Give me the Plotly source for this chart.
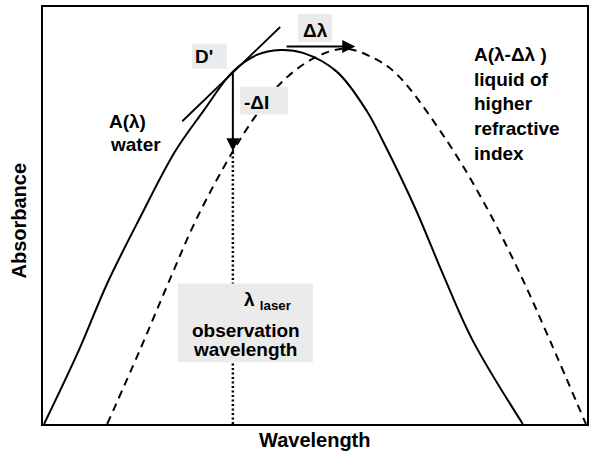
import plotly.graph_objects as go

# curves (wavelength 0-100, absorbance 0-100, arbitrary units)
water_wl = [0.2, 6.6, 11.8, 17.8, 24.3, 29.4, 34.9, 39.3, 43.6, 47.8, 54.0, 59.6, 62.5, 68.4, 73.5, 79.0, 88.2]
water_abs = [0.0, 17.7, 33.7, 49.4, 65.4, 74.9, 84.5, 88.5, 89.7, 89.0, 84.5, 74.9, 67.8, 51.8, 36.0, 20.0, 0.0]

liquid_wl = [11.8, 17.8, 23.0, 28.3, 34.9, 39.0, 43.6, 49.6, 55.5, 61.0, 65.1, 74.3, 81.6, 87.7, 93.2, 99.8]
liquid_abs = [0.0, 17.7, 33.7, 49.4, 65.4, 73.7, 81.6, 87.6, 90.0, 87.6, 83.8, 67.8, 51.8, 36.0, 20.0, 0.0]

tangent_wl = [25.6, 43.6]
tangent_abs = [72.6, 95.2]

laser_wl = 34.9
laser_abs_top = 65.4
shift_start, shift_end, shift_abs = 44.5, 57.4, 90.5

FONT = "Arial, Liberation Sans, sans-serif"
BOX = "#ebebeb"

fig = go.Figure()
fig.add_trace(go.Scatter(x=water_wl, y=water_abs, mode="lines", line=dict(color="black", width=2, shape="spline")))
fig.add_trace(go.Scatter(x=liquid_wl, y=liquid_abs, mode="lines",
                         line=dict(color="black", width=2, dash="8px,6px", shape="spline")))
fig.add_trace(go.Scatter(x=tangent_wl, y=tangent_abs, mode="lines", line=dict(color="black", width=1.8)))
fig.add_trace(go.Scatter(x=[laser_wl, laser_wl], y=[0, laser_abs_top], mode="lines",
                         line=dict(color="black", width=2.5, dash="2px,2.5px")))

# gray label boxes (drawn over the curves)
for x0, x1, y0, y1 in [(27.4, 33.8, 85.2, 91.2), (46.9, 53.1, 91.6, 98.3),
                       (36.2, 45.0, 74.2, 80.9), (24.8, 49.6, 14.8, 33.7)]:
    fig.add_shape(type="rect", x0=x0, x1=x1, y0=y0, y1=y1, xref="x", yref="y",
                  fillcolor=BOX, line=dict(width=0), layer="above")

def label(x, y, text, size=19, xanchor="center", **kw):
    fig.add_annotation(x=x, y=y, text=text, showarrow=False, xanchor=xanchor, align="left",
                       font=dict(family=FONT, size=size, color="black"), **kw)

label(29.6, 88.1, "<b>D'</b>")
label(50.0, 94.3, "<b>Δλ</b>")
label(39.3, 77.1, "<b>-ΔI</b>")
label(41.2, 29.6, "<b>λ <sub>laser</sub></b>")
label(37.3, 22.4, "<b>observation</b>")
label(37.1, 17.9, "<b>wavelength</b>")
label(11.8, 72.6, "<b>A(λ)</b>", xanchor="left")
label(11.9, 67.1, "<b>water</b>", xanchor="left")
label(78.9, 76.7, "<b>A(λ-Δλ )<br>liquid of<br>higher<br>refractive<br>index</b>", xanchor="left")

# arrows
fig.add_annotation(x=laser_wl, y=laser_abs_top, ax=laser_wl, ay=84.5, axref="x", ayref="y",
                   text="", showarrow=True, arrowhead=2, arrowsize=1.3, arrowwidth=2, arrowcolor="black")
fig.add_annotation(x=shift_end, y=shift_abs, ax=shift_start, ay=shift_abs, axref="x", ayref="y",
                   text="", showarrow=True, arrowhead=2, arrowsize=1.3, arrowwidth=2, arrowcolor="black")

# axis titles
fig.add_annotation(x=0.5, y=0, xref="paper", yref="paper", yanchor="middle", yshift=-16,
                   text="<b>Wavelength</b>", showarrow=False, font=dict(family=FONT, size=20, color="black"))
fig.add_annotation(x=0, y=0.5, xref="paper", yref="paper", xanchor="center", xshift=-25, yshift=-5,
                   text="<b>Absorbance</b>", textangle=-90, showarrow=False,
                   font=dict(family=FONT, size=20, color="black"))

axis = dict(showline=True, mirror=True, linecolor="black", linewidth=1.5, showgrid=False,
            zeroline=False, showticklabels=False, ticks="")
fig.update_xaxes(range=[0, 100], **axis)
fig.update_yaxes(range=[0, 100], **axis)
fig.update_layout(width=597, height=455, margin=dict(l=43, r=10, t=5, b=31),
                  plot_bgcolor="white", paper_bgcolor="white", showlegend=False)
fig.write_html("out.html", config={"displayModeBar": False},
               post_script="document.body.style.margin='0px';")
